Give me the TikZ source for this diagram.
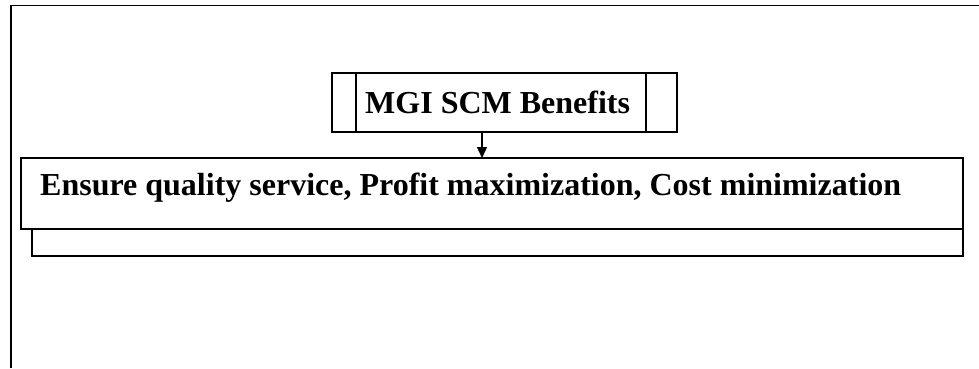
\documentclass[tikz,border=0pt]{standalone}
\usepackage{fontspec}
\setmainfont{Liberation Serif}
\usetikzlibrary{arrows.meta}
\begin{document}
\begin{tikzpicture}[x=1pt,y=-1pt,
  frame/.style={draw=black,line width=1.3pt},
  lbl/.style={font=\bfseries\fontsize{32}{36}\selectfont,inner sep=0pt,anchor=base west}]
\useasboundingbox[fill=white] (0,0) rectangle (979,368);
% outer frame (left and top only visible)
\coordinate (fbl) at (11,368);
\coordinate (ftl) at (11,5.5);
\coordinate (ftr) at (979,5.5);
\draw[frame] (fbl) -- (ftl) -- (ftr);
% title box
\draw[frame] (332,73) rectangle (677,132);
\draw[frame] (356,73) -- (356,132);
\draw[frame] (646,73) -- (646,132);
\node[lbl] (title) at (365,113) {MGI SCM Benefits};
\coordinate (tb) at (482,132);
% lower shadow box
\draw[frame] (32,229) rectangle (963,256);
% main box
\draw[frame,fill=white] (21,158) rectangle (963,229);
\coordinate (mt) at (482,158);
\node[lbl] (main) at (40,195) {Ensure quality service, Profit maximization, Cost minimization};
\draw[line width=1.3pt,-{Triangle[length=11pt,width=10pt]}] (tb) -- (mt);
\end{tikzpicture}
\end{document}
